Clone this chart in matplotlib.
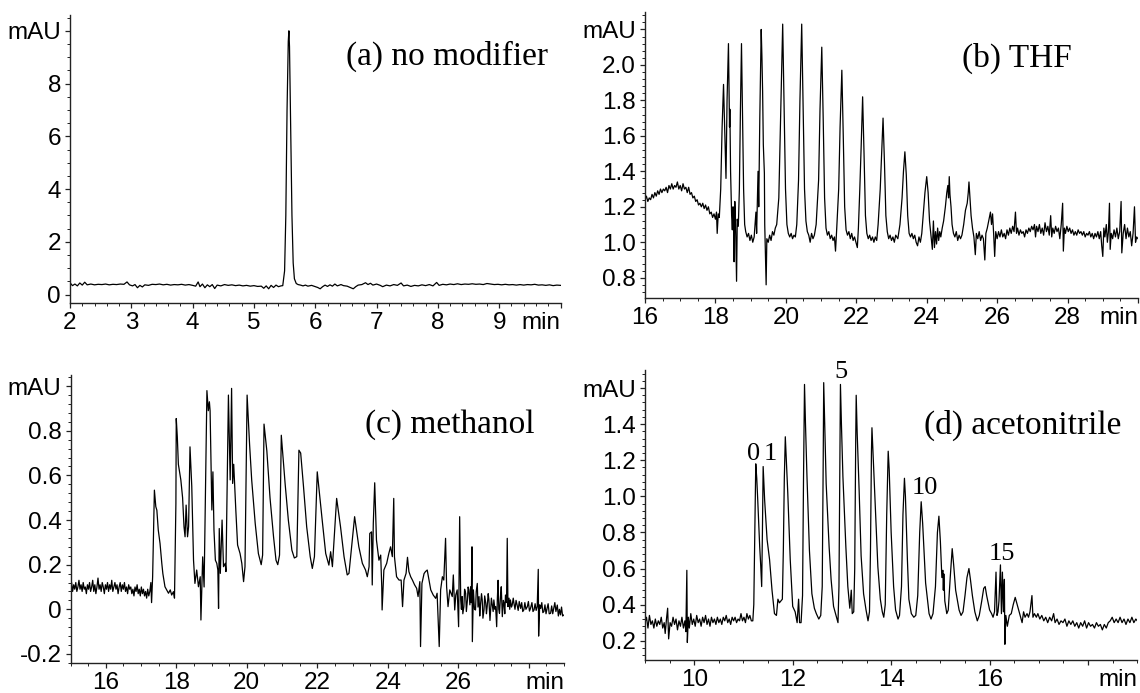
import numpy as np
import matplotlib
matplotlib.use("Agg")
import matplotlib.pyplot as plt
from matplotlib.ticker import MultipleLocator, FixedLocator

SANS = ["Liberation Sans", "DejaVu Sans"]
SERIF = ["Liberation Serif", "DejaVu Serif"]

# ---------------- data (time in min, absorbance in mAU) ----------------
trace_a = [
    (2.00, 0.45), (2.04, 0.34), (2.08, 0.40), (2.12, 0.33), (2.16, 0.44), (2.20, 0.36), (2.24, 0.47),
    (2.28, 0.37), (2.34, 0.40), (2.40, 0.37), (2.46, 0.39), (2.52, 0.38), (2.58, 0.40), (2.64, 0.37),
    (2.70, 0.39), (2.76, 0.38), (2.82, 0.40), (2.88, 0.39), (2.93, 0.48), (2.97, 0.37), (3.02, 0.33),
    (3.06, 0.38), (3.10, 0.26), (3.14, 0.35), (3.18, 0.29), (3.22, 0.37), (3.28, 0.35), (3.34, 0.39),
    (3.40, 0.38), (3.46, 0.40), (3.52, 0.37), (3.58, 0.39), (3.64, 0.36), (3.70, 0.38), (3.76, 0.37),
    (3.82, 0.39), (3.88, 0.36), (3.94, 0.38), (4.00, 0.35), (4.05, 0.32), (4.09, 0.48), (4.12, 0.30),
    (4.16, 0.40), (4.20, 0.26), (4.24, 0.37), (4.28, 0.30), (4.32, 0.38), (4.36, 0.23), (4.40, 0.36),
    (4.46, 0.33), (4.52, 0.38), (4.58, 0.35), (4.64, 0.37), (4.70, 0.34), (4.76, 0.36), (4.82, 0.33),
    (4.88, 0.35), (4.94, 0.32), (5.00, 0.34), (5.06, 0.31), (5.12, 0.32), (5.16, 0.24), (5.20, 0.33),
    (5.24, 0.22), (5.28, 0.35), (5.32, 0.27), (5.36, 0.36), (5.40, 0.30), (5.44, 0.33), (5.47, 0.34),
    (5.50, 0.90), (5.52, 3.00), (5.54, 7.00), (5.56, 9.60), (5.57, 10.00), (5.58, 9.40), (5.60, 6.20),
    (5.62, 3.00), (5.64, 1.20), (5.66, 0.60), (5.69, 0.42), (5.72, 0.38), (5.76, 0.36), (5.80, 0.33),
    (5.84, 0.36), (5.88, 0.32), (5.94, 0.35), (6.00, 0.30), (6.04, 0.27), (6.08, 0.22), (6.12, 0.30),
    (6.16, 0.36), (6.20, 0.31), (6.24, 0.37), (6.28, 0.32), (6.32, 0.40), (6.36, 0.33), (6.42, 0.38),
    (6.46, 0.34), (6.52, 0.32), (6.58, 0.26), (6.62, 0.22), (6.66, 0.30), (6.70, 0.36), (6.76, 0.38),
    (6.82, 0.45), (6.86, 0.38), (6.90, 0.43), (6.94, 0.36), (7.00, 0.40), (7.06, 0.35), (7.10, 0.30),
    (7.16, 0.36), (7.22, 0.33), (7.28, 0.38), (7.34, 0.35), (7.40, 0.44), (7.44, 0.33), (7.50, 0.36),
    (7.56, 0.31), (7.62, 0.35), (7.68, 0.33), (7.74, 0.37), (7.80, 0.34), (7.86, 0.38), (7.92, 0.33),
    (7.98, 0.46), (8.02, 0.35), (8.08, 0.39), (8.14, 0.37), (8.20, 0.40), (8.26, 0.38), (8.32, 0.41),
    (8.38, 0.38), (8.44, 0.40), (8.50, 0.39), (8.56, 0.41), (8.62, 0.39), (8.68, 0.40), (8.74, 0.38),
    (8.80, 0.42), (8.86, 0.40), (8.92, 0.38), (8.98, 0.39), (9.04, 0.37), (9.10, 0.39), (9.16, 0.37),
    (9.22, 0.38), (9.28, 0.36), (9.34, 0.38), (9.40, 0.36), (9.46, 0.38), (9.52, 0.37), (9.58, 0.39),
    (9.64, 0.36), (9.70, 0.37), (9.76, 0.35), (9.82, 0.37), (9.88, 0.34), (9.94, 0.36), (10.00, 0.35),
]

trace_b = [
    (16.00, 1.24), (16.04, 1.26), (16.08, 1.23), (16.12, 1.25), (16.16, 1.24), (16.20, 1.27), (16.24, 1.25),
    (16.28, 1.28), (16.32, 1.26), (16.36, 1.29), (16.40, 1.27), (16.44, 1.30), (16.48, 1.28), (16.52, 1.30),
    (16.56, 1.29), (16.60, 1.31), (16.64, 1.28), (16.68, 1.32), (16.72, 1.30), (16.76, 1.33), (16.80, 1.30),
    (16.84, 1.32), (16.88, 1.31), (16.92, 1.34), (16.96, 1.30), (17.00, 1.32), (17.04, 1.29), (17.08, 1.33),
    (17.12, 1.30), (17.16, 1.31), (17.20, 1.28), (17.24, 1.31), (17.28, 1.27), (17.32, 1.28), (17.36, 1.25),
    (17.40, 1.26), (17.44, 1.23), (17.48, 1.24), (17.52, 1.21), (17.56, 1.22), (17.60, 1.20), (17.64, 1.22),
    (17.68, 1.19), (17.72, 1.21), (17.76, 1.18), (17.80, 1.20), (17.84, 1.16), (17.88, 1.17), (17.92, 1.14),
    (17.96, 1.16), (18.00, 1.13), (18.03, 1.17), (18.05, 1.05), (18.08, 1.16), (18.11, 1.14),
    (18.15, 1.30), (18.19, 1.65), (18.23, 1.89), (18.27, 1.60), (18.30, 1.36), (18.33, 1.80), (18.37, 2.12),
    (18.39, 1.80), (18.40, 1.65), (18.41, 1.75), (18.43, 1.40), (18.46, 1.15), (18.48, 1.07), (18.50, 1.20),
    (18.52, 1.10), (18.53, 0.89), (18.55, 1.23), (18.57, 1.12), (18.60, 0.78), (18.62, 1.13), (18.65, 1.09),
    (18.68, 1.30), (18.71, 1.75), (18.74, 2.12), (18.77, 1.70), (18.80, 1.30), (18.83, 1.10), (18.86, 1.06),
    (18.90, 1.03), (18.94, 1.05), (18.98, 1.01), (19.02, 1.04), (19.06, 1.00), (19.10, 1.03), (19.15, 1.17),
    (19.17, 1.05), (19.21, 1.40), (19.23, 1.20),
    (19.26, 1.70), (19.30, 2.20), (19.32, 2.05), (19.34, 1.85), (19.36, 1.55), (19.39, 1.39), (19.40, 1.10),
    (19.44, 0.76), (19.46, 1.02), (19.50, 1.00), (19.54, 1.04), (19.58, 1.01), (19.62, 1.06), (19.66, 1.04),
    (19.70, 1.08), (19.74, 1.10),
    (19.80, 1.25), (19.85, 1.70), (19.91, 2.23), (19.95, 1.75), (19.99, 1.30), (20.03, 1.10), (20.07, 1.05),
    (20.11, 1.03), (20.15, 1.05), (20.19, 1.02), (20.23, 1.04), (20.27, 1.03), (20.31, 1.10),
    (20.36, 1.35), (20.40, 1.80), (20.45, 2.23), (20.49, 1.75), (20.53, 1.30), (20.57, 1.12), (20.61, 1.06),
    (20.65, 1.04), (20.69, 1.00), (20.73, 1.05), (20.77, 1.02), (20.81, 1.04), (20.86, 1.10),
    (20.93, 1.35), (20.97, 1.75), (21.02, 2.10), (21.06, 1.70), (21.10, 1.25), (21.14, 1.08), (21.18, 1.04),
    (21.22, 1.06), (21.26, 1.02), (21.30, 1.04), (21.34, 1.01), (21.38, 1.03), (21.41, 0.95), (21.44, 1.06),
    (21.50, 1.30), (21.54, 1.65), (21.59, 1.97), (21.63, 1.60), (21.67, 1.20), (21.71, 1.07), (21.75, 1.04),
    (21.79, 1.06), (21.83, 1.02), (21.87, 1.05), (21.91, 1.01), (21.95, 1.03), (21.99, 1.00), (22.03, 0.97),
    (22.06, 1.08),
    (22.10, 1.30), (22.14, 1.55), (22.18, 1.82), (22.22, 1.50), (22.26, 1.15), (22.30, 1.05), (22.34, 1.02),
    (22.38, 1.04), (22.42, 1.01), (22.46, 1.03), (22.50, 1.00), (22.54, 1.03), (22.58, 1.01), (22.62, 1.10),
    (22.68, 1.30), (22.72, 1.50), (22.76, 1.70), (22.80, 1.45), (22.84, 1.15), (22.88, 1.06), (22.92, 1.02),
    (22.96, 1.04), (23.00, 1.01), (23.04, 1.03), (23.08, 1.00), (23.12, 1.04), (23.18, 1.02), (23.24, 1.10),
    (23.30, 1.25), (23.34, 1.40), (23.38, 1.51), (23.42, 1.38), (23.46, 1.15), (23.50, 1.05), (23.54, 1.03),
    (23.58, 1.05), (23.62, 1.02), (23.66, 1.04), (23.70, 1.00), (23.74, 0.98), (23.78, 1.03), (23.82, 1.00),
    (23.86, 1.05), (23.90, 1.15),
    (23.95, 1.28), (24.00, 1.37), (24.04, 1.28), (24.08, 1.12), (24.12, 1.04), (24.16, 0.96), (24.19, 1.12),
    (24.22, 0.97), (24.25, 1.06), (24.28, 0.99), (24.31, 1.08), (24.34, 1.01), (24.37, 1.06), (24.40, 1.03),
    (24.44, 1.08), (24.48, 1.12),
    (24.53, 1.20), (24.57, 1.28), (24.60, 1.32), (24.62, 1.25), (24.64, 1.37), (24.66, 1.27), (24.69, 1.20),
    (24.72, 1.10), (24.76, 1.05), (24.80, 1.03), (24.84, 1.06), (24.88, 1.01), (24.92, 1.04), (24.96, 1.02),
    (25.00, 1.04), (25.05, 1.10),
    (25.10, 1.18), (25.15, 1.22), (25.18, 1.28), (25.20, 1.34), (25.23, 1.24), (25.26, 1.15), (25.30, 1.08),
    (25.34, 1.03), (25.38, 0.93), (25.41, 1.05), (25.45, 1.02), (25.49, 1.06), (25.53, 1.01), (25.57, 1.04),
    (25.61, 1.02), (25.65, 0.90), (25.68, 1.05), (25.72, 1.08),
    (25.76, 1.12), (25.81, 1.17), (25.84, 1.10), (25.87, 1.16), (25.90, 1.05), (25.93, 0.92), (25.96, 1.06),
    (26.00, 1.02), (26.04, 1.06), (26.08, 1.03), (26.12, 1.07), (26.16, 1.03), (26.20, 1.05), (26.24, 1.02),
    (26.28, 1.07), (26.32, 1.04), (26.36, 1.08), (26.40, 1.05), (26.44, 1.09), (26.48, 1.06), (26.52, 1.17),
    (26.55, 1.05), (26.58, 1.08), (26.62, 1.04), (26.66, 1.07), (26.70, 1.05), (26.74, 1.06), (26.78, 1.03),
    (26.82, 1.07), (26.86, 1.05), (26.90, 1.08), (26.94, 1.06), (26.98, 1.09), (27.02, 1.07), (27.06, 1.10),
    (27.09, 1.03), (27.12, 1.09), (27.16, 1.06), (27.20, 1.10), (27.24, 1.05), (27.28, 1.08), (27.32, 1.04),
    (27.36, 1.11), (27.40, 1.06), (27.44, 1.09), (27.48, 1.04), (27.52, 1.15), (27.55, 1.03), (27.58, 1.08),
    (27.62, 1.05), (27.66, 1.09), (27.70, 1.06), (27.74, 1.08), (27.78, 1.02), (27.82, 1.10), (27.86, 1.22),
    (27.88, 0.95), (27.91, 1.08), (27.94, 1.05), (27.98, 1.09), (28.02, 1.06), (28.06, 1.08), (28.10, 1.05),
    (28.14, 1.07), (28.18, 1.04), (28.22, 1.06), (28.26, 1.04), (28.30, 1.07), (28.34, 1.05), (28.38, 1.06),
    (28.42, 1.04), (28.46, 1.06), (28.50, 1.03), (28.54, 1.05), (28.58, 1.04), (28.62, 1.06), (28.66, 1.03),
    (28.70, 1.05), (28.74, 1.02), (28.78, 1.05), (28.82, 1.03), (28.86, 1.06), (28.90, 1.02), (28.94, 1.06),
    (28.97, 0.98), (29.00, 0.92), (29.03, 1.08), (29.06, 1.03), (29.10, 1.10), (29.13, 1.00), (29.16, 1.06),
    (29.19, 1.22), (29.21, 0.96), (29.24, 1.05), (29.28, 1.02), (29.32, 1.07), (29.36, 1.03), (29.40, 1.08),
    (29.44, 1.02), (29.48, 1.06), (29.52, 1.23), (29.54, 0.94), (29.58, 1.05), (29.62, 1.10), (29.66, 1.02),
    (29.70, 1.08), (29.74, 1.03), (29.78, 1.06), (29.82, 0.98), (29.86, 1.05), (29.90, 1.20), (29.93, 1.00),
    (29.96, 1.03), (30.00, 1.02),
]

trace_c = [
    (15.00, 0.07), (15.03, 0.12), (15.06, 0.08), (15.09, 0.11), (15.12, 0.09), (15.15, 0.12), (15.18, 0.08),
    (15.21, 0.10), (15.24, 0.13), (15.27, 0.09), (15.30, 0.11), (15.33, 0.08), (15.36, 0.12), (15.39, 0.09),
    (15.42, 0.10), (15.45, 0.07), (15.48, 0.11), (15.51, 0.09), (15.54, 0.12), (15.57, 0.08), (15.60, 0.10),
    (15.63, 0.13), (15.66, 0.08), (15.69, 0.11), (15.72, 0.07), (15.75, 0.10), (15.78, 0.14), (15.81, 0.09),
    (15.84, 0.11), (15.87, 0.08), (15.90, 0.12), (15.93, 0.10), (15.96, 0.07), (15.99, 0.11), (16.02, 0.09),
    (16.05, 0.12), (16.08, 0.08), (16.11, 0.11), (16.14, 0.09), (16.17, 0.13), (16.20, 0.08), (16.23, 0.10),
    (16.26, 0.12), (16.29, 0.09), (16.32, 0.11), (16.35, 0.07), (16.38, 0.10), (16.41, 0.12), (16.44, 0.08),
    (16.47, 0.11), (16.50, 0.09), (16.53, 0.12), (16.56, 0.08), (16.59, 0.10), (16.62, 0.07), (16.65, 0.11),
    (16.68, 0.09), (16.71, 0.10), (16.74, 0.07), (16.77, 0.09), (16.80, 0.06), (16.83, 0.10), (16.86, 0.08),
    (16.89, 0.11), (16.92, 0.07), (16.95, 0.09), (16.98, 0.06), (17.01, 0.10), (17.04, 0.07), (17.07, 0.09),
    (17.10, 0.06), (17.13, 0.08), (17.16, 0.05), (17.19, 0.09), (17.22, 0.06), (17.25, 0.08), (17.28, 0.12),
    (17.30, 0.03),
    (17.33, 0.146), (17.38, 0.534), (17.42, 0.46), (17.45, 0.444), (17.49, 0.355), (17.54, 0.295),
    (17.59, 0.206), (17.62, 0.16), (17.68, 0.101), (17.73, 0.087), (17.78, 0.072), (17.83, 0.087),
    (17.87, 0.064), (17.92, 0.079), (17.95, 0.05), (17.99, 0.474), (18.00, 0.855), (18.03, 0.773),
    (18.06, 0.65), (18.13, 0.58), (18.18, 0.50), (18.22, 0.37), (18.25, 0.325), (18.28, 0.467),
    (18.32, 0.325), (18.35, 0.37), (18.39, 0.728), (18.44, 0.552), (18.49, 0.22), (18.53, 0.116),
    (18.58, 0.176), (18.63, 0.101), (18.68, 0.146), (18.70, -0.048), (18.75, 0.235), (18.79, 0.10),
    (18.82, 0.43), (18.87, 0.98), (18.91, 0.89), (18.94, 0.93), (18.96, 0.89), (19.01, 0.445),
    (19.04, 0.616), (19.07, 0.355), (19.11, 0.22), (19.15, 0.206), (19.18, 0.176), (19.20, 0.004),
    (19.22, 0.362), (19.25, 0.161), (19.30, 0.40), (19.34, 0.191), (19.39, 0.206), (19.41, 0.169),
    (19.48, 0.96), (19.53, 0.58), (19.57, 0.99), (19.60, 0.564), (19.63, 0.65), (19.69, 0.444),
    (19.74, 0.288), (19.81, 0.25), (19.86, 0.206), (19.91, 0.124), (19.95, 0.191), (20.01, 0.96),
    (20.08, 0.74), (20.14, 0.58), (20.24, 0.385), (20.33, 0.25), (20.41, 0.20), (20.45, 0.243),
    (20.49, 0.83), (20.57, 0.71), (20.66, 0.50), (20.76, 0.325), (20.83, 0.22), (20.88, 0.20),
    (20.93, 0.243), (20.98, 0.78), (21.09, 0.56), (21.18, 0.40), (21.28, 0.265), (21.35, 0.23),
    (21.42, 0.236), (21.48, 0.713), (21.53, 0.70), (21.61, 0.55), (21.70, 0.37), (21.80, 0.236),
    (21.86, 0.183), (21.92, 0.236), (22.00, 0.616), (22.08, 0.49), (22.14, 0.40), (22.24, 0.25),
    (22.33, 0.198), (22.38, 0.258), (22.43, 0.191), (22.55, 0.497), (22.66, 0.37), (22.76, 0.236),
    (22.85, 0.154), (22.90, 0.161), (23.06, 0.415), (23.18, 0.28), (23.28, 0.206), (23.37, 0.176),
    (23.42, 0.146), (23.47, 0.191), (23.49, 0.34), (23.54, 0.347), (23.56, 0.109), (23.59, 0.385),
    (23.63, 0.567), (23.68, 0.31), (23.75, 0.22), (23.80, 0.243), (23.83, 0.10), (23.84, -0.003),
    (23.89, 0.176), (23.97, 0.206), (24.03, 0.25), (24.08, 0.28), (24.13, 0.236), (24.17, 0.497),
    (24.19, 0.236), (24.25, 0.146), (24.32, 0.131), (24.38, 0.131), (24.42, 0.012), (24.46, 0.131),
    (24.52, 0.161), (24.56, 0.233), (24.60, 0.169), (24.65, 0.146), (24.70, 0.131), (24.76, 0.11),
    (24.82, 0.094), (24.86, 0.057), (24.91, 0.124), (24.93, -0.167), (24.97, 0.116), (25.03, 0.16),
    (25.07, 0.169), (25.12, 0.176), (25.17, 0.131), (25.22, 0.087), (25.29, 0.064), (25.36, 0.049),
    (25.40, 0.072), (25.46, -0.167), (25.50, 0.087), (25.55, 0.146), (25.59, 0.131), (25.64, 0.318),
    (25.67, 0.101), (25.71, 0.012), (25.76, 0.087), (25.83, 0.057), (25.86, 0.154), (25.90, -0.003),
    (25.93, 0.064), (25.97, 0.087), (26.01, -0.078), (26.04, 0.415), (26.07, 0.042), (26.09, 0.00),
    (26.11, 0.057), (26.13, -0.02), (26.16, 0.012), (26.18, 0.09), (26.21, 0.072), (26.23, -0.01),
    (26.26, 0.042), (26.28, 0.10), (26.30, 0.087), (26.33, 0.02), (26.35, 0.101), (26.37, 0.03),
    (26.39, 0.28), (26.40, -0.145), (26.43, 0.087), (26.46, 0.00), (26.49, -0.003), (26.51, 0.08),
    (26.54, 0.116), (26.56, 0.01), (26.59, 0.057), (26.61, -0.03), (26.63, 0.019), (26.66, 0.07),
    (26.68, 0.042), (26.70, -0.04), (26.73, -0.003), (26.75, 0.06), (26.78, 0.027), (26.80, -0.02),
    (26.82, 0.012), (26.85, 0.07), (26.87, 0.042), (26.90, -0.05), (26.92, -0.003), (26.94, 0.05),
    (26.96, 0.027), (26.99, -0.01), (27.01, 0.042), (27.04, 0.00), (27.06, 0.012), (27.09, -0.078),
    (27.11, 0.05), (27.13, 0.13), (27.15, 0.00), (27.17, -0.018), (27.20, 0.06), (27.22, 0.101),
    (27.25, -0.033), (27.28, 0.04), (27.30, 0.027), (27.32, -0.02), (27.34, 0.064), (27.37, 0.03),
    (27.39, 0.318), (27.41, 0.012), (27.44, 0.05), (27.46, 0.00), (27.48, 0.042), (27.51, 0.01),
    (27.53, 0.019), (27.56, 0.05), (27.58, 0.027), (27.61, 0.00), (27.64, 0.04), (27.67, 0.019),
    (27.70, -0.005), (27.73, 0.035), (27.77, 0.004), (27.80, 0.03), (27.83, -0.01), (27.86, -0.003),
    (27.89, 0.03), (27.92, 0.00), (27.96, 0.012), (27.99, 0.035), (28.02, -0.008), (28.05, 0.004),
    (28.09, 0.03), (28.12, -0.01), (28.15, -0.003), (28.18, 0.025), (28.21, -0.005), (28.24, 0.012),
    (28.27, 0.179), (28.28, -0.12), (28.31, 0.02), (28.34, 0.004), (28.37, 0.03), (28.40, -0.015),
    (28.43, -0.01), (28.46, 0.02), (28.49, -0.02), (28.52, 0.004), (28.55, 0.025), (28.58, -0.02),
    (28.62, -0.018), (28.65, 0.015), (28.68, -0.02), (28.71, 0.004), (28.74, 0.03), (28.77, -0.01),
    (28.81, 0.019), (28.84, -0.03), (28.87, 0.00), (28.90, -0.025), (28.93, 0.01), (28.96, -0.03),
    (29.00, -0.025),
]

trace_d = [
    (9.00, 0.30), (9.03, 0.33), (9.06, 0.27), (9.09, 0.34), (9.12, 0.29), (9.15, 0.31), (9.18, 0.27),
    (9.21, 0.32), (9.24, 0.28), (9.27, 0.31), (9.30, 0.29), (9.33, 0.33), (9.36, 0.27), (9.39, 0.30),
    (9.41, 0.24), (9.44, 0.33), (9.46, 0.38), (9.48, 0.21), (9.51, 0.30), (9.54, 0.28), (9.57, 0.33),
    (9.60, 0.29), (9.63, 0.32), (9.66, 0.26), (9.69, 0.31), (9.72, 0.28), (9.75, 0.33), (9.78, 0.27),
    (9.81, 0.31), (9.83, 0.25), (9.85, 0.59), (9.86, 0.19), (9.88, 0.33), (9.90, 0.27), (9.93, 0.35),
    (9.96, 0.29), (9.99, 0.32), (10.02, 0.28), (10.05, 0.34), (10.08, 0.30), (10.11, 0.32), (10.14, 0.28),
    (10.17, 0.33), (10.20, 0.30), (10.23, 0.34), (10.26, 0.29), (10.29, 0.32), (10.32, 0.28), (10.35, 0.33),
    (10.38, 0.30), (10.41, 0.32), (10.44, 0.29), (10.47, 0.33), (10.50, 0.30), (10.53, 0.32), (10.56, 0.29),
    (10.59, 0.33), (10.62, 0.31), (10.65, 0.34), (10.68, 0.30), (10.71, 0.32), (10.74, 0.29), (10.77, 0.33),
    (10.80, 0.31), (10.83, 0.33), (10.86, 0.30), (10.89, 0.32), (10.92, 0.31), (10.95, 0.35), (10.98, 0.31),
    (11.01, 0.33), (11.04, 0.30), (11.07, 0.35), (11.10, 0.32), (11.13, 0.34), (11.16, 0.31), (11.19, 0.31),
    (11.21, 0.40), (11.23, 0.80), (11.25, 1.18), (11.27, 1.10), (11.29, 0.98), (11.33, 0.72), (11.35, 0.62),
    (11.37, 0.50), (11.385, 0.80), (11.40, 1.165), (11.43, 0.98), (11.48, 0.76), (11.53, 0.65), (11.58, 0.48),
    (11.63, 0.35), (11.67, 0.34), (11.70, 0.43), (11.73, 0.41), (11.76, 0.42), (11.79, 0.43), (11.81, 0.70),
    (11.83, 1.10), (11.85, 1.33), (11.88, 1.15), (11.90, 1.02), (11.95, 0.65), (12.00, 0.39), (12.05, 0.36),
    (12.09, 0.30), (12.12, 0.43), (12.14, 0.30), (12.17, 0.30), (12.20, 0.45), (12.22, 1.10), (12.24, 1.62),
    (12.26, 1.40), (12.29, 1.11), (12.34, 0.70), (12.39, 0.46), (12.44, 0.38), (12.48, 0.35), (12.53, 0.32),
    (12.57, 0.34), (12.60, 0.50), (12.62, 1.20), (12.63, 1.63), (12.65, 1.40), (12.68, 1.07), (12.74, 0.72),
    (12.78, 0.54), (12.83, 0.39), (12.87, 0.35), (12.92, 0.30), (12.94, 0.50), (12.96, 1.30), (12.97, 1.62),
    (12.99, 1.40), (13.02, 1.11), (13.08, 0.72), (13.12, 0.50), (13.16, 0.38), (13.19, 0.48), (13.21, 0.35),
    (13.24, 0.36), (13.26, 0.60), (13.28, 1.30), (13.29, 1.56), (13.31, 1.35), (13.35, 1.03), (13.39, 0.67),
    (13.44, 0.46), (13.49, 0.37), (13.53, 0.31), (13.56, 0.36), (13.58, 0.70), (13.60, 1.25), (13.61, 1.38),
    (13.63, 1.25), (13.67, 0.98), (13.73, 0.61), (13.78, 0.43), (13.82, 0.36), (13.85, 0.33), (13.88, 0.40),
    (13.91, 0.90), (13.94, 1.25), (13.96, 1.15), (14.00, 0.80), (14.05, 0.50), (14.09, 0.37), (14.14, 0.32),
    (14.17, 0.34), (14.21, 0.50), (14.24, 0.90), (14.27, 1.10), (14.29, 1.00), (14.33, 0.65), (14.36, 0.43),
    (14.41, 0.35), (14.46, 0.33), (14.50, 0.34), (14.54, 0.45), (14.58, 0.80), (14.61, 0.97), (14.64, 0.85),
    (14.70, 0.52), (14.77, 0.35), (14.81, 0.32), (14.85, 0.35), (14.90, 0.50), (14.94, 0.80), (14.97, 0.89),
    (15.00, 0.75), (15.03, 0.55), (15.05, 0.59), (15.06, 0.48), (15.07, 0.57), (15.09, 0.42), (15.13, 0.35),
    (15.16, 0.37), (15.20, 0.55), (15.24, 0.71), (15.27, 0.62), (15.31, 0.48), (15.38, 0.37), (15.42, 0.34),
    (15.46, 0.36), (15.50, 0.45), (15.54, 0.55), (15.58, 0.60), (15.61, 0.54), (15.65, 0.45), (15.70, 0.36),
    (15.75, 0.31), (15.79, 0.34), (15.84, 0.42), (15.88, 0.49), (15.91, 0.50), (15.94, 0.45), (16.00, 0.37),
    (16.04, 0.35), (16.07, 0.33), (16.10, 0.36), (16.13, 0.58), (16.15, 0.34), (16.17, 0.36), (16.19, 0.42),
    (16.22, 0.62), (16.24, 0.35), (16.26, 0.58), (16.28, 0.36), (16.30, 0.54), (16.31, 0.18), (16.33, 0.34),
    (16.36, 0.28), (16.40, 0.34), (16.44, 0.35), (16.48, 0.40), (16.52, 0.44), (16.56, 0.40), (16.59, 0.37),
    (16.62, 0.34), (16.66, 0.30), (16.69, 0.36), (16.72, 0.33), (16.76, 0.35), (16.79, 0.33), (16.82, 0.36),
    (16.86, 0.45), (16.88, 0.33), (16.91, 0.35), (16.95, 0.33), (16.98, 0.35), (17.02, 0.32), (17.06, 0.34),
    (17.10, 0.31), (17.14, 0.33), (17.18, 0.30), (17.22, 0.33), (17.26, 0.31), (17.30, 0.35), (17.33, 0.30),
    (17.37, 0.32), (17.41, 0.29), (17.45, 0.31), (17.49, 0.30), (17.53, 0.32), (17.57, 0.28), (17.61, 0.31),
    (17.65, 0.29), (17.69, 0.31), (17.73, 0.28), (17.77, 0.30), (17.81, 0.27), (17.85, 0.30), (17.89, 0.28),
    (17.93, 0.31), (17.97, 0.27), (18.01, 0.30), (18.05, 0.28), (18.09, 0.29), (18.13, 0.27), (18.17, 0.30),
    (18.21, 0.28), (18.25, 0.29), (18.29, 0.26), (18.33, 0.29), (18.37, 0.27), (18.41, 0.30), (18.45, 0.31),
    (18.49, 0.33), (18.53, 0.30), (18.57, 0.32), (18.61, 0.30), (18.65, 0.33), (18.69, 0.30), (18.73, 0.32),
    (18.77, 0.29), (18.81, 0.32), (18.85, 0.30), (18.89, 0.33), (18.93, 0.30), (18.97, 0.32), (19.00, 0.31),
]

titles = ["(a) no modifier", "(b) THF", "(c) methanol", "(d) acetonitrile"]

xlims = [(2, 10), (16, 30), (15, 29), (9, 19)]
ylims = [(-0.33, 10.6), (0.684, 2.30), (-0.242, 1.05), (0.093, 1.70)]

xticks = [[2, 3, 4, 5, 6, 7, 8, 9, 10],
          [16, 18, 20, 22, 24, 26, 28, 30],
          [16, 18, 20, 22, 24, 26, 28],
          [10, 12, 14, 16, 18]]
xticklabels = [["2", "3", "4", "5", "6", "7", "8", "9", ""],
               ["16", "18", "20", "22", "24", "26", "28", ""],
               ["16", "18", "20", "22", "24", "26", ""],
               ["10", "12", "14", "16", ""]]
yticks = [[0, 2, 4, 6, 8, 10],
          [0.8, 1.0, 1.2, 1.4, 1.6, 1.8, 2.0, 2.2],
          [-0.2, 0.0, 0.2, 0.4, 0.6, 0.8, 1.0],
          [0.2, 0.4, 0.6, 0.8, 1.0, 1.2, 1.4, 1.6]]
yticklabels = [["0", "2", "4", "6", "8", "mAU"],
               ["0.8", "1.0", "1.2", "1.4", "1.6", "1.8", "2.0", "mAU"],
               ["-0.2", "0", "0.2", "0.4", "0.6", "0.8", "mAU"],
               ["0.2", "0.4", "0.6", "0.8", "1.0", "1.2", "1.4", "mAU"]]
xminor = [0.2, 0.5, 0.5, 0.5]
yminor = [0.5, 0.04, 0.04, 0.04]

# title anchor (right edge, baseline) in data coordinates
title_pos = [(9.80, 8.70), (28.13, 1.99), (28.15, 0.789), (18.68, 1.349)]

# peak numbers in (d)
d_labels = ["0", "1", "5", "10", "15"]
d_label_x = [11.20, 11.54, 12.97, 14.68, 16.25]
d_label_y = [1.200, 1.200, 1.655, 1.015, 0.648]

# ---------------- figure ----------------
W, H = 1140, 693
fig = plt.figure(figsize=(W / 100, H / 100), dpi=100)

# axes boxes in pixels: left, right, top, bottom
boxes = [(70, 560.5, 15, 303.3), (645, 1138, 11.7, 298.3),
         (70.5, 564, 375, 663.3), (645, 1137.3, 370, 660)]
traces = [trace_a, trace_b, trace_c, trace_d]

TICK_FS = 17.5
MAJ_LEN, MIN_LEN, PAD = 3.3, 1.9, 3.2

axes = []
for i, (l, r, t, b) in enumerate(boxes):
    ax = fig.add_axes([l / W, 1 - b / H, (r - l) / W, (b - t) / H])
    axes.append(ax)
    arr = np.array(traces[i])
    ax.plot(arr[:, 0], arr[:, 1], color="black", lw=0.9)
    ax.set_xlim(*xlims[i])
    ax.set_ylim(*ylims[i])
    for s in ("top", "right"):
        ax.spines[s].set_visible(False)
    for s in ("left", "bottom"):
        ax.spines[s].set_linewidth(1.0)
        ax.spines[s].set_color("#222222")
    ax.set_xticks(xticks[i])
    ax.set_xticklabels(xticklabels[i])
    ax.set_yticks(yticks[i])
    ax.set_yticklabels(yticklabels[i])
    ax.xaxis.set_minor_locator(MultipleLocator(xminor[i]))
    ax.yaxis.set_minor_locator(MultipleLocator(yminor[i]))
    ax.tick_params(which="major", direction="out", length=MAJ_LEN, width=0.9,
                   pad=PAD, labelsize=TICK_FS, color="#222222")
    ax.tick_params(which="minor", direction="out", length=MIN_LEN, width=0.7,
                   color="#222222")
    for lab in ax.get_xticklabels() + ax.get_yticklabels():
        lab.set_family(SANS)
    ax.annotate("min", xy=(1, 0), xycoords="axes fraction",
                xytext=(0, -(MAJ_LEN + PAD)), textcoords="offset points",
                ha="right", va="top", fontsize=TICK_FS, family=SANS)
    tx, ty = title_pos[i]
    ax.text(tx, ty, titles[i], ha="right", va="baseline",
            fontsize=24, family=SERIF)

axd = axes[3]
for s, x, y in zip(d_labels, d_label_x, d_label_y):
    axd.text(x, y, s, ha="center", va="baseline", fontsize=19,
             family=SERIF, clip_on=False)

fig.savefig("out.png", dpi=100)
